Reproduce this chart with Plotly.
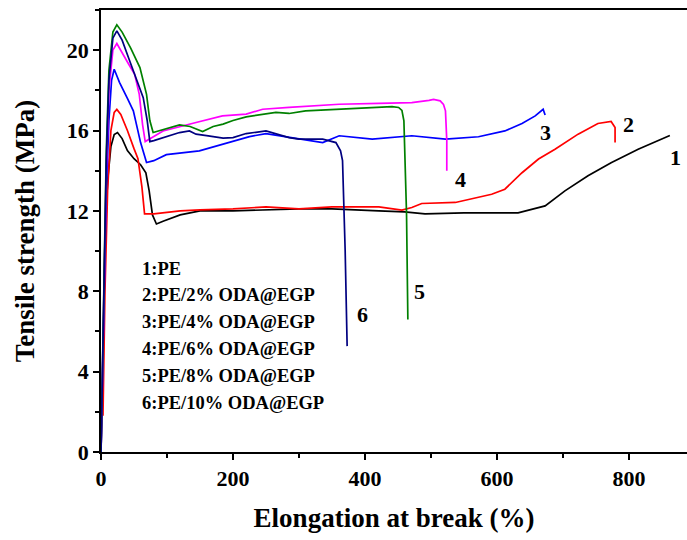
import plotly.graph_objects as go

# ---------------- data ----------------
pe_x = [0, 3, 6, 10, 15, 20, 25, 32, 40, 50, 60, 68, 73, 78, 84, 95, 120, 150, 200, 250, 300, 350, 400,
        421, 460, 491, 550, 600, 632, 673, 703, 738, 773, 814, 862]
pe_y = [0, 4, 10.5, 13.5, 15.2, 15.8, 15.9, 15.6, 15.0, 14.6, 14.3, 13.9, 13.0, 11.8, 11.35, 11.5, 11.8, 12.0,
        12.0, 12.05, 12.1, 12.1, 12.05, 12.0, 11.95, 11.85, 11.9, 11.9, 11.9, 12.25, 13.0, 13.75, 14.4, 15.07, 15.75]

pe2_x = [3, 6, 10, 15, 20, 24, 30, 40, 50, 56, 62, 66, 80, 120, 150, 200, 250, 300, 350, 400, 421, 456, 471,
         486, 537, 592, 612, 638, 663, 688, 723, 753, 773, 779, 779]
pe2_y = [1.8, 8, 13, 16, 16.9, 17.05, 16.8, 16.0, 15.1, 14.6, 13.2, 11.85, 11.85, 12.0, 12.05, 12.1, 12.2,
         12.1, 12.2, 12.2, 12.2, 12.04, 12.17, 12.37, 12.42, 12.83, 13.08, 13.9, 14.58, 15.07, 15.82, 16.35,
         16.45, 16.15, 15.4]

pe4_x = [0, 4, 8, 12, 16, 20, 28, 40, 49, 60, 69, 80, 99, 149, 225, 250, 300, 336, 361, 411, 471, 522, 572,
         612, 638, 658, 670, 673]
pe4_y = [0, 7, 13, 16.5, 18.5, 19.05, 18.4, 17.6, 16.98, 15.4, 14.41, 14.5, 14.8, 14.99, 15.7, 15.85, 15.57,
         15.4, 15.74, 15.57, 15.74, 15.57, 15.69, 15.98, 16.35, 16.73, 17.06, 16.77]

pe6_x = [0, 4, 8, 12, 18, 24, 32, 42, 51, 58, 63, 67, 80, 94, 144, 184, 220, 245, 285, 361, 421, 471, 497,
         504, 514, 519, 522, 524, 524]
pe6_y = [0, 8, 14, 18, 20.0, 20.33, 19.9, 19.3, 18.8, 17.8, 16.3, 15.45, 15.7, 15.98, 16.4, 16.73, 16.82,
         17.06, 17.15, 17.31, 17.35, 17.39, 17.5, 17.55, 17.48, 17.3, 16.98, 15.5, 14.0]

pe8_x = [0, 4, 8, 12, 18, 24, 32, 45, 59, 69, 74, 79, 95, 119, 135, 154, 170, 185, 200, 220, 265, 285, 310,
         361, 421, 441, 451, 456, 459, 461, 463, 465]
pe8_y = [0, 8, 15, 19, 20.9, 21.26, 20.9, 20.1, 19.13, 17.8, 16.5, 15.9, 16.05, 16.28, 16.2, 15.95, 16.2,
         16.32, 16.5, 16.68, 16.9, 16.85, 16.98, 17.06, 17.15, 17.19, 17.15, 17.0, 16.48, 14.66, 11.84, 6.6]

pe10_x = [0, 4, 8, 12, 18, 24, 32, 42, 54, 64, 70, 74, 80, 94, 119, 134, 144, 160, 185, 200, 220, 250, 285,
          300, 336, 356, 363, 366, 370, 373]
pe10_y = [0, 8, 14.5, 18.5, 20.6, 20.96, 20.5, 19.6, 18.56, 17.64, 16.5, 15.45, 15.5, 15.65, 15.9, 15.98,
          15.82, 15.75, 15.62, 15.65, 15.85, 15.98, 15.65, 15.57, 15.57, 15.4, 14.99, 14.5, 10.0, 5.27]

legend_lines = ["1:PE", "2:PE/2% ODA@EGP", "3:PE/4% ODA@EGP", "4:PE/6% ODA@EGP",
                "5:PE/8% ODA@EGP", "6:PE/10% ODA@EGP"]
curve_ids = ["1", "2", "3", "4", "5", "6"]
x_ticks = [0, 200, 400, 600, 800]
y_ticks = [0, 4, 8, 12, 16, 20]

# ---------------- figure ----------------
series = [
    (pe_x, pe_y, "#000000"),
    (pe2_x, pe2_y, "#ff0000"),
    (pe4_x, pe4_y, "#0000ff"),
    (pe6_x, pe6_y, "#ff00ff"),
    (pe8_x, pe8_y, "#008000"),
    (pe10_x, pe10_y, "#000080"),
]

FONT = "Times New Roman, Liberation Serif, serif"

fig = go.Figure()
for (xs, ys, col), name in zip(series, legend_lines):
    fig.add_trace(go.Scatter(x=xs, y=ys, mode="lines", name=name,
                             line=dict(color=col, width=1.7), showlegend=False))

# curve number labels
label_pos = [(870, 14.65), (800, 16.3), (674, 15.9), (545, 13.55), (483, 7.97), (397, 6.83)]
for cid, (lx, ly) in zip(curve_ids, label_pos):
    fig.add_annotation(x=lx, y=ly, xref="x", yref="y", text=cid, showarrow=False,
                       font=dict(family=FONT, size=22, color="black", weight="bold"))

# text legend
for i, t in enumerate(legend_lines):
    fig.add_annotation(x=0.066, y=0.415 - i * 0.0608, xref="paper", yref="paper", text=t,
                       showarrow=False, xanchor="left", yanchor="middle",
                       font=dict(family=FONT, size=18.5, color="black", weight="bold"))

axis_common = dict(
    showline=True, linecolor="black", linewidth=1.5,
    ticks="outside", ticklen=6, tickwidth=1.5, tickcolor="black",
    showgrid=False, zeroline=False,
    tickfont=dict(family=FONT, size=22, color="black", weight="bold"),
)

fig.update_layout(
    width=687, height=540,
    margin=dict(l=101, r=0, t=10, b=88),
    plot_bgcolor="white", paper_bgcolor="white",
    xaxis=dict(axis_common, range=[0, 888], tickvals=x_ticks, mirror=True,
               minor=dict(dtick=100, ticklen=4, tickwidth=1.5, ticks="outside", tickcolor="black"),
               title=dict(text="Elongation at break (%)", standoff=18,
                          font=dict(family=FONT, size=27, color="black", weight="bold"))),
    yaxis=dict(axis_common, range=[0, 22], tickvals=y_ticks,
               minor=dict(dtick=2, ticklen=4, tickwidth=1.5, ticks="outside", tickcolor="black"),
               title=dict(text="Tensile strength (MPa)", standoff=24,
                          font=dict(family=FONT, size=27, color="black", weight="bold"))),
)

fig.write_html("out.html")
